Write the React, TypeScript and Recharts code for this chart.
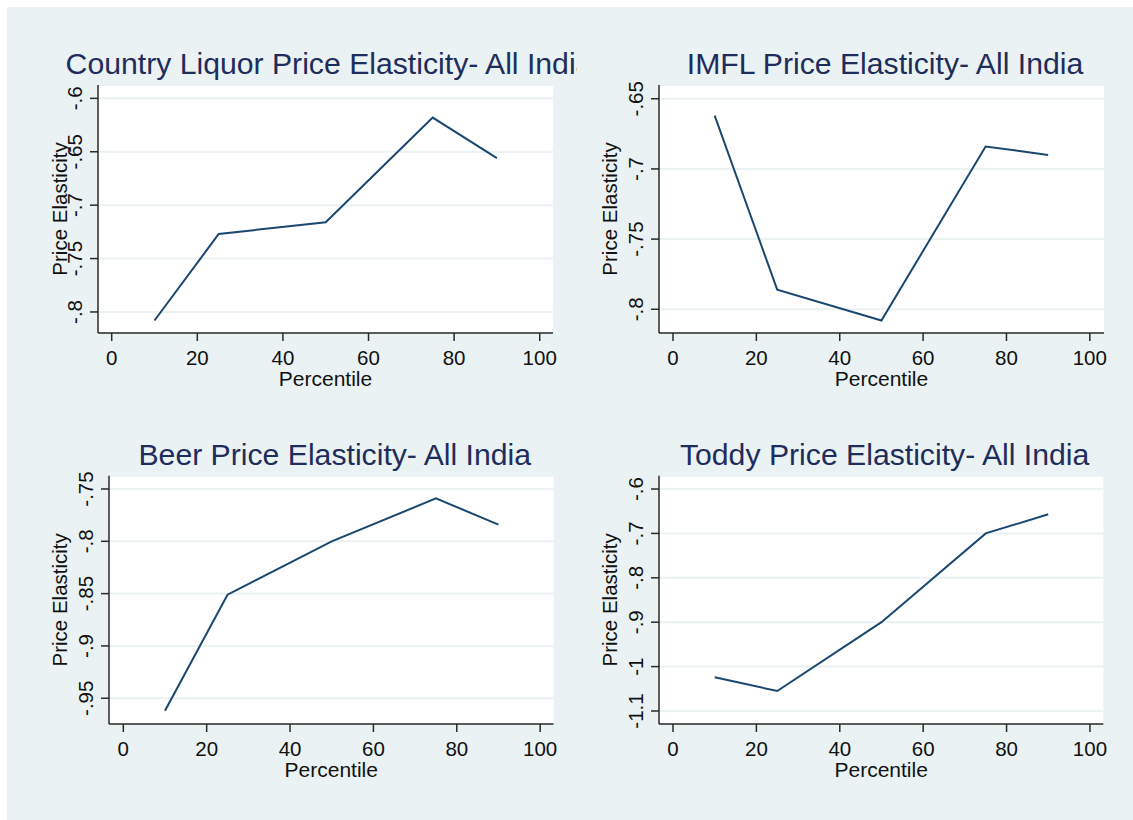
import React from "react";
import { LineChart, Line, XAxis, YAxis, CartesianGrid } from "recharts";

// percentiles on the x axis, shared by all four panels
const percentiles = [10, 25, 50, 75, 90];
const xTicks = [0, 20, 40, 60, 80, 100];

// price elasticity
const countryLiquor = [-0.808, -0.727, -0.716, -0.618, -0.656];
const imfl = [-0.662, -0.786, -0.808, -0.684, -0.69];
const beer = [-0.962, -0.851, -0.8, -0.759, -0.784];
const toddy = [-1.024, -1.055, -0.9, -0.7, -0.657];

// y tick labels per panel
const countryTicks = [-0.8, -0.75, -0.7, -0.65, -0.6];
const imflTicks = [-0.8, -0.75, -0.7, -0.65];
const beerTicks = [-0.95, -0.9, -0.85, -0.8, -0.75];
const toddyTicks = [-1.1, -1, -0.9, -0.8, -0.7, -0.6];

const FONT = '"Liberation Sans", Arial, Helvetica, sans-serif';
const BG = "#eaf2f3";
const LINE = "#1a476f";
const TITLE = "#1e2d5c";
const AXIS = "#2a2a2a";

type Box = { left: number; top: number; width: number; height: number };
type Plot = { l: number; r: number; t: number; b: number };

type PanelCfg = {
  title: string;
  values: number[];
  yTicks: number[];
  xDomain: [number, number];
  yDomain: [number, number];
  box: Box;
  plot: Plot;
  yTitleX: number;
};

const stataFmt = (v: number) => String(v).replace("0.", ".");

const panels: PanelCfg[] = [
  {
    title: "Country Liquor Price Elasticity- All India",
    values: countryLiquor,
    yTicks: countryTicks,
    xDomain: [-3.2, 103.1],
    yDomain: [-0.8197, -0.5875],
    box: { left: 7, top: 7, width: 570, height: 400 },
    plot: { l: 98, r: 553, t: 85, b: 333 },
    yTitleX: 67,
  },
  {
    title: "IMFL Price Elasticity- All India",
    values: imfl,
    yTicks: imflTicks,
    xDomain: [-3.36, 103.4],
    yDomain: [-0.8169, -0.6402],
    box: { left: 577, top: 7, width: 556, height: 400 },
    plot: { l: 659, r: 1104, t: 85, b: 333 },
    yTitleX: 617,
  },
  {
    title: "Beer Price Elasticity- All India",
    values: beer,
    yTicks: beerTicks,
    xDomain: [-3.43, 103.2],
    yDomain: [-0.9746, -0.7373],
    box: { left: 7, top: 407, width: 570, height: 413 },
    plot: { l: 109, r: 553.5, t: 475.7, b: 724 },
    yTitleX: 67,
  },
  {
    title: "Toddy Price Elasticity- All India",
    values: toddy,
    yTicks: toddyTicks,
    xDomain: [-3.36, 103.2],
    yDomain: [-1.1293, -0.57],
    box: { left: 577, top: 407, width: 556, height: 413 },
    plot: { l: 659, r: 1103.3, t: 475.7, b: 724 },
    yTitleX: 617,
  },
];

const XTick = (props: any) => {
  const { x, y, payload } = props;
  return (
    <text x={x} y={y + 24} textAnchor="middle" fontSize={20.5} fontFamily={FONT} fill="#111">
      {payload.value}
    </text>
  );
};

const YTick = (props: any) => {
  const { x, y, payload } = props;
  const bx = x - 8;
  return (
    <text
      x={bx}
      y={y}
      transform={`rotate(-90, ${bx}, ${y})`}
      textAnchor="middle"
      fontSize={20.5}
      fontFamily={FONT}
      fill="#111"
    >
      {stataFmt(payload.value)}
    </text>
  );
};

function Panel({ cfg }: { cfg: PanelCfg }) {
  const { box, plot } = cfg;
  const data = percentiles.map((p, i) => ({ p, v: cfg.values[i] }));
  const yAxisW = 40;
  const xAxisH = 40;
  const margin = {
    top: plot.t - box.top,
    left: plot.l - box.left - yAxisW,
    right: box.left + box.width - plot.r,
    bottom: box.top + box.height - plot.b - xAxisH,
  };
  const cx = (plot.l + plot.r) / 2 - box.left;
  const cy = (plot.t + plot.b) / 2 - box.top;
  const bottom = plot.b - box.top;
  const yTitleX = cfg.yTitleX - box.left;

  return (
    <div style={{ position: "absolute", left: box.left, top: box.top, width: box.width, height: box.height }}>
      <LineChart width={box.width} height={box.height} data={data} margin={margin}>
        <CartesianGrid vertical={false} fill="#ffffff" stroke={BG} strokeWidth={2} />
        <XAxis
          type="number"
          dataKey="p"
          domain={cfg.xDomain}
          ticks={xTicks}
          interval={0}
          allowDataOverflow
          height={xAxisH}
          tickSize={8}
          tickMargin={0}
          axisLine={{ stroke: AXIS, strokeWidth: 1.5 }}
          tickLine={{ stroke: AXIS, strokeWidth: 1.5 }}
          tick={XTick}
          label={() => (
            <text x={cx} y={bottom + 53} textAnchor="middle" fontSize={21} fontFamily={FONT} fill="#111">
              Percentile
            </text>
          )}
        />
        <YAxis
          type="number"
          dataKey="v"
          domain={cfg.yDomain}
          ticks={cfg.yTicks}
          interval={0}
          allowDataOverflow
          width={yAxisW}
          tickSize={8}
          tickMargin={0}
          axisLine={{ stroke: AXIS, strokeWidth: 1.5 }}
          tickLine={{ stroke: AXIS, strokeWidth: 1.5 }}
          tick={YTick}
          label={() => (
            <text
              x={yTitleX}
              y={cy}
              transform={`rotate(-90, ${yTitleX}, ${cy})`}
              textAnchor="middle"
              fontSize={20.5}
              fontFamily={FONT}
              fill="#111"
            >
              Price Elasticity
            </text>
          )}
        />
        <Line
          type="linear"
          dataKey="v"
          stroke={LINE}
          strokeWidth={2}
          dot={false}
          activeDot={false}
          isAnimationActive={false}
        />
      </LineChart>
      <svg
        width={box.width}
        height={box.height}
        style={{ position: "absolute", left: 0, top: 0, overflow: "hidden", pointerEvents: "none" }}
      >
        <text
          x={cx + 3.5}
          y={plot.t - box.top - 11}
          textAnchor="middle"
          fontSize={30.2}
          fontFamily={FONT}
          fill={TITLE}
        >
          {cfg.title}
        </text>
      </svg>
    </div>
  );
}

export default function App() {
  return (
    <div style={{ position: "absolute", left: 0, top: 0, width: 1133, height: 820, background: "#ffffff" }}>
      <div style={{ position: "absolute", left: 7, top: 7, width: 1126, height: 813, background: BG }} />
      {panels.map((cfg) => (
        <Panel key={cfg.title} cfg={cfg} />
      ))}
    </div>
  );
}
